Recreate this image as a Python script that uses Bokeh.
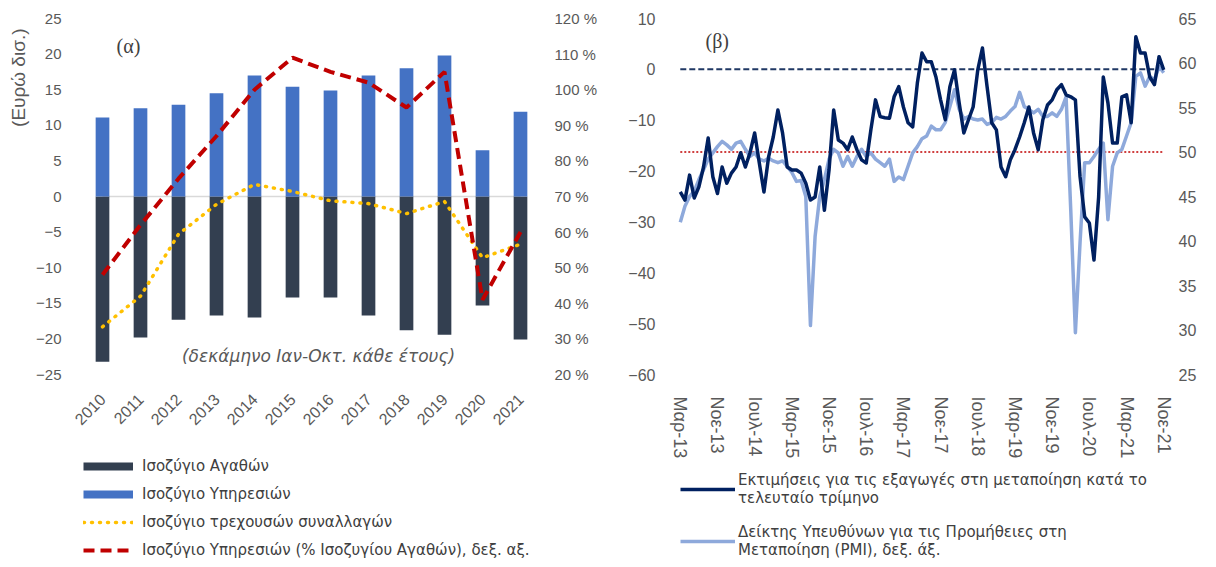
from bokeh.plotting import figure
from bokeh.models import (Range1d, LinearAxis, FixedTicker, Legend, LegendItem,
                          Label, Title, FactorRange)
from bokeh.layouts import row, column
from bokeh.embed import file_html
from bokeh.resources import INLINE

# ---------------- data: chart (α) ----------------
years = ["2010", "2011", "2012", "2013", "2014", "2015",
         "2016", "2017", "2018", "2019", "2020", "2021"]
goods_balance = [-23.2, -19.8, -17.3, -16.7, -17.0, -14.2,
                 -14.2, -16.7, -18.8, -19.4, -15.3, -20.1]
services_balance = [11.1, 12.4, 12.9, 14.5, 17.0, 15.4,
                    14.9, 17.0, 18.0, 19.8, 6.5, 11.9]
current_account = [-18.3, -14.0, -5.3, -1.1, 1.7, 0.7,
                   -0.6, -1.0, -2.4, -0.7, -8.6, -6.7]
services_pct_goods = [48, 62, 75, 87, 100, 109, 105, 102, 95, 105, 41, 60]

left_ticks = [-25, -20, -15, -10, -5, 0, 5, 10, 15, 20, 25]
pct_ticks = [20, 30, 40, 50, 60, 70, 80, 90, 100, 110, 120]

# ---------------- data: chart (β) ----------------
exports_expect = [
    -24.1, -25.7, -20.8, -25.3, -23.1, -19.2, -13.5, -21.1, -24.4, -19.2,
    -22.4, -20.4, -19.2, -16.4, -19.2, -16.4, -12.5, -18.4, -24.1, -17.2,
    -13.3, -8.0, -12.5, -19.2, -19.8, -19.8, -20.4, -22.4, -25.7, -25.1,
    -19.2, -27.7, -19.8, -8.0, -13.9, -14.5, -15.8, -13.3, -15.8, -17.8,
    -18.4, -11.9, -6.0, -9.3, -9.5, -9.6, -5.4, -3.4, -7.4, -10.5,
    -11.3, -2.7, 3.2, 1.5, 1.5, -1.5, -6.0, -9.9, -3.4, -0.1,
    -6.6, -12.5, -9.9, -7.4, -0.1, 4.2, -3.4, -10.5, -11.9, -19.2,
    -21.1, -17.8, -15.8, -13.3, -10.5, -7.4, -12.5, -15.8, -9.9, -7.0,
    -6.0, -4.0, -3.0, -5.0, -5.4, -6.0, -21.1, -29.0, -30.2, -37.5,
    -25.1, -1.5, -6.6, -14.5, -14.5, -5.4, -5.0, -10.5, 6.4, 3.2,
    3.2, -1.5, -3.0, 2.5, -0.1]
pmi = [
    42.1, 43.9, 45.0, 45.6, 46.9, 48.0, 49.2, 49.9, 50.6, 51.2,
    50.8, 50.3, 51.0, 51.2, 50.3, 49.5, 49.9, 49.2, 49.0, 49.3,
    49.0, 48.8, 49.0, 48.4, 47.7, 46.7, 46.8, 45.0, 30.5, 40.5,
    45.0, 46.9, 49.2, 50.3, 49.9, 48.4, 49.5, 48.4, 49.5, 50.3,
    49.5, 49.9, 49.2, 48.8, 48.4, 49.2, 46.7, 47.2, 46.9, 48.4,
    49.9, 50.6, 51.5, 51.8, 52.9, 52.5, 52.5, 53.3, 55.1, 57.0,
    54.8, 53.7, 54.0, 53.7, 53.6, 53.7, 53.1, 53.3, 53.9, 53.7,
    54.0, 54.6, 55.1, 56.7, 55.1, 54.8, 54.4, 54.8, 54.0, 54.0,
    54.4, 54.0, 54.8, 56.2, 43.5, 29.7, 39.8, 48.8, 48.8, 49.5,
    50.3, 51.0, 42.4, 48.4, 49.9, 50.3, 51.8, 53.3, 58.5, 58.9,
    57.4, 58.5, 58.1, 59.6, 58.9]
months = list(range(len(pmi)))
month_tick_pos = [0, 8, 16, 24, 32, 40, 48, 56, 64, 72, 80, 88, 96, 104]
month_tick_labels = ["Μαρ-13", "Νοε-13", "Ιουλ-14", "Μαρ-15", "Νοε-15", "Ιουλ-16",
                     "Μαρ-17", "Νοε-17", "Ιουλ-18", "Μαρ-19", "Νοε-19", "Ιουλ-20",
                     "Μαρ-21", "Νοε-21"]
exp_ticks = [-60, -50, -40, -30, -20, -10, 0, 10]
pmi_ticks = [25, 30, 35, 40, 45, 50, 55, 60, 65]
exports_ref = 0
pmi_ref = 50

FONT = "Liberation Sans"
LEG_FONT = "DejaVu Sans"
TICK_COLOR = "#595959"
TEXT_COLOR = "#404040"

C_GOODS = "#333F50"
C_SERV = "#4472C4"
C_CA = "#FFC000"
C_PCT = "#C00000"
C_EXP = "#002060"
C_PMI = "#8EA9DB"
nan = float("nan")


def style_axis(ax, size="15px", standoff=10):
    ax.axis_line_color = None
    ax.major_tick_line_color = None
    ax.minor_tick_line_color = None
    ax.major_label_text_font = FONT
    ax.major_label_text_font_size = size
    ax.major_label_text_color = TICK_COLOR
    ax.major_label_standoff = standoff


def legend_panel(width, height):
    f = figure(width=width, height=height, output_backend="svg", toolbar_location=None,
               x_axis_location=None, y_axis_location=None, min_border=0,
               x_range=Range1d(0, 1), y_range=Range1d(0, 1))
    f.outline_line_color = None
    f.grid.visible = False
    return f


# ---------------- figure (α) ----------------
p1 = figure(width=600, height=440, x_range=FactorRange(*years),
            y_range=Range1d(-25, 25), output_backend="svg", toolbar_location=None,
            min_border_left=82, min_border_right=56, min_border_top=18,
            min_border_bottom=66)
p1.outline_line_color = None
p1.xgrid.visible = False
p1.ygrid.visible = False
p1.extra_y_ranges = {"pct": Range1d(20, 120)}

p1.yaxis.ticker = FixedTicker(ticks=left_ticks)
style_axis(p1.yaxis[0], standoff=16)
style_axis(p1.xaxis[0], size="16px", standoff=16)
p1.xaxis.major_label_orientation = 0.785

ax_r = LinearAxis(y_range_name="pct", ticker=FixedTicker(ticks=pct_ticks),
                  major_label_overrides={t: f"{t} %" for t in pct_ticks})
style_axis(ax_r, standoff=9)
p1.add_layout(ax_r, "right")

ttl = Title(text="(Ευρώ δισ.)", align="right", offset=10,
            text_font=FONT, text_font_size="19px", text_font_style="normal",
            text_color=TICK_COLOR)
p1.add_layout(ttl, "left")

# zero line
p1.line(x=[years[0], years[-1]], y=[0, 0], line_color="#D9D9D9", line_width=1.5)

p1.vbar(x=years, top=goods_balance, bottom=0, width=0.36,
        fill_color=C_GOODS, line_color=None)
p1.vbar(x=years, top=services_balance, bottom=0, width=0.36,
        fill_color=C_SERV, line_color=None)
p1.line(x=years, y=current_account, line_color=C_CA, line_width=3.5,
        line_dash="1 7", line_cap="round")
p1.line(x=years, y=services_pct_goods, y_range_name="pct",
        line_color=C_PCT, line_width=4, line_dash="11 6")

p1.add_layout(Label(x=33, y=329, x_units="screen", y_units="screen", text="(α)",
                    text_font="Liberation Serif", text_font_size="20px",
                    text_color=TEXT_COLOR, text_baseline="middle"))
p1.add_layout(Label(x=235, y=19, x_units="screen", y_units="screen",
                    text="(δεκάμηνο Ιαν-Οκτ. κάθε έτους)", text_font=LEG_FONT,
                    text_font_size="17px", text_font_style="italic",
                    text_color=TICK_COLOR, text_align="center",
                    text_baseline="middle"))

# legend panel (α)
l1 = legend_panel(600, 123)
k1 = l1.line(x=[0], y=[nan], line_color=C_GOODS, line_width=8)
k2 = l1.line(x=[0], y=[nan], line_color=C_SERV, line_width=8)
k3 = l1.line(x=[0], y=[nan], line_color=C_CA, line_width=3.5, line_dash="1 7", line_cap="round")
k4 = l1.line(x=[0], y=[nan], line_color=C_PCT, line_width=4, line_dash="11 6")
leg1 = Legend(items=[
    LegendItem(label="Ισοζύγιο Αγαθών", renderers=[k1]),
    LegendItem(label="Ισοζύγιο Υπηρεσιών", renderers=[k2]),
    LegendItem(label="Ισοζύγιο τρεχουσών συναλλαγών", renderers=[k3]),
    LegendItem(label="Ισοζύγιο Υπηρεσιών (% Ισοζυγίου Αγαθών), δεξ. αξ.", renderers=[k4]),
], location=(0, 3), orientation="vertical", glyph_width=50, glyph_height=20,
    label_height=20, spacing=8, padding=0, margin=0, label_standoff=9,
    border_line_color=None, background_fill_alpha=0,
    label_text_font=LEG_FONT, label_text_font_size="15px", label_text_color=TEXT_COLOR)
l1.add_layout(leg1, "center")

# ---------------- figure (β) ----------------
p2 = figure(width=608, height=463, x_range=Range1d(-0.6, 104.6),
            y_range=Range1d(-60, 10), output_backend="svg", toolbar_location=None,
            min_border_left=77, min_border_right=42, min_border_top=18,
            min_border_bottom=89)
p2.outline_line_color = None
p2.xgrid.visible = False
p2.ygrid.visible = False
p2.extra_y_ranges = {"pmi": Range1d(25, 65)}

p2.yaxis.ticker = FixedTicker(ticks=exp_ticks)
style_axis(p2.yaxis[0], size="16px", standoff=16)
p2.xaxis.ticker = FixedTicker(ticks=month_tick_pos)
p2.xaxis.major_label_overrides = dict(zip(month_tick_pos, month_tick_labels))
style_axis(p2.xaxis[0], size="18px", standoff=16)
p2.xaxis.major_label_orientation = "vertical"

ax_r2 = LinearAxis(y_range_name="pmi", ticker=FixedTicker(ticks=pmi_ticks))
style_axis(ax_r2, size="16px", standoff=6)
p2.add_layout(ax_r2, "right")

p2.line(x=[months[0], months[-1]], y=[exports_ref, exports_ref],
        line_color="#203864", line_width=2, line_dash="6 3")
p2.line(x=[months[0], months[-1]], y=[pmi_ref, pmi_ref], y_range_name="pmi",
        line_color=C_PCT, line_width=1.5, line_dash="2 2")

p2.line(x=months, y=pmi, y_range_name="pmi", line_color=C_PMI,
        line_width=3.5, line_join="round")
p2.line(x=months, y=exports_expect, line_color=C_EXP,
        line_width=3.5, line_join="round")

p2.add_layout(Label(x=28, y=334, x_units="screen", y_units="screen", text="(β)",
                    text_font="Liberation Serif", text_font_size="20px",
                    text_color=TEXT_COLOR, text_baseline="middle"))

# legend panel (β)
l2 = legend_panel(608, 100)
m1 = l2.line(x=[0], y=[nan], line_color=C_EXP, line_width=3.5)
m2 = l2.line(x=[0], y=[nan], line_color=C_PMI, line_width=3.5)
leg2 = Legend(items=[
    LegendItem(label="Εκτιμήσεις για τις εξαγωγές στη μεταποίηση κατά το\nτελευταίο τρίμηνο",
               renderers=[m1]),
    LegendItem(label="Δείκτης Υπευθύνων για τις Προμήθειες στη\nΜεταποίηση (PMI), δεξ. άξ.",
               renderers=[m2]),
], location=(3, 4), orientation="vertical", glyph_width=55, glyph_height=20,
    label_height=20, spacing=16, padding=0, margin=0, label_standoff=3,
    border_line_color=None, background_fill_alpha=0,
    label_text_font=LEG_FONT, label_text_font_size="15px", label_text_color=TEXT_COLOR,
    label_text_line_height=1.5)
l2.add_layout(leg2, "center")

layout = row(column(p1, l1), column(p2, l2))
open("out.html", "w").write(file_html(layout, INLINE))
